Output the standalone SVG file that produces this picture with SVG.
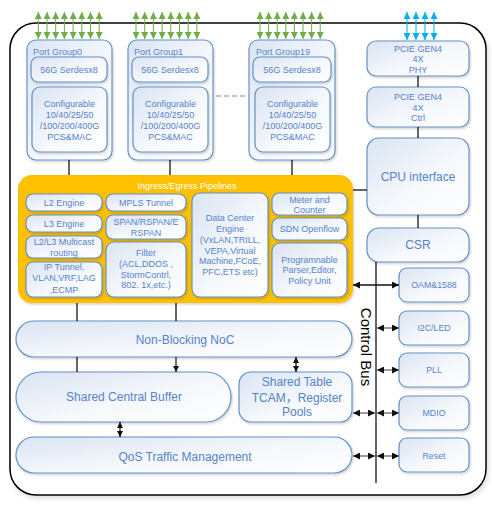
<svg xmlns="http://www.w3.org/2000/svg" width="492" height="508" viewBox="0 0 492 508">
<defs>
<linearGradient id="g" x1="0" y1="0" x2="1" y2="1"><stop offset="0" stop-color="#DAE4F2"/><stop offset="0.55" stop-color="#F5F8FC"/><stop offset="1" stop-color="#FFFFFF"/></linearGradient>
<filter id="sh" x="-10%" y="-10%" width="130%" height="140%"><feDropShadow dx="1" dy="1.5" stdDeviation="1" flood-color="#000" flood-opacity="0.18"/></filter>
<filter id="bsh" x="-5%" y="-5%" width="115%" height="115%"><feDropShadow dx="2" dy="3" stdDeviation="2" flood-color="#000" flood-opacity="0.12"/></filter>
<marker id="ah" viewBox="0 0 10 10" refX="10" refY="5" markerWidth="7" markerHeight="7" orient="auto-start-reverse" markerUnits="userSpaceOnUse"><path d="M0,0 L10,5 L0,10 z" fill="#111"/></marker>
<marker id="as" viewBox="0 0 10 10" refX="10" refY="5" markerWidth="6" markerHeight="6" orient="auto-start-reverse" markerUnits="userSpaceOnUse"><path d="M0,0 L10,5 L0,10 z" fill="#111"/></marker>
<marker id="gn" viewBox="0 0 10 10" refX="10" refY="5" markerWidth="7" markerHeight="7" orient="auto-start-reverse" markerUnits="userSpaceOnUse"><path d="M0,0 L10,5 L0,10 z" fill="#70AD47"/></marker>
<marker id="bl" viewBox="0 0 10 10" refX="10" refY="5" markerWidth="7" markerHeight="7" orient="auto-start-reverse" markerUnits="userSpaceOnUse"><path d="M0,0 L10,5 L0,10 z" fill="#00B0F0"/></marker>
</defs>
<style>
.b{fill:url(#g);stroke:#6592C6;stroke-width:1.2;filter:url(#sh)}
.t{font-family:"Liberation Sans","Noto Sans CJK SC",Arial,sans-serif;fill:#5683C8;font-size:9px;text-anchor:middle}
.l{text-anchor:start}
.m{font-size:12px}
.s{font-size:8.8px}
.w{fill:#FFFFFF}
.c{stroke:#000;stroke-width:1.2;fill:none}
.gr{stroke:#70AD47;stroke-width:1;marker-start:url(#gn);marker-end:url(#gn)}
.bu{stroke:#00B0F0;stroke-width:1;marker-start:url(#bl);marker-end:url(#bl)}
.da{stroke:#111;stroke-width:1.3;marker-start:url(#ah);marker-end:url(#ah)}
.dg{stroke:#7F7F7F;stroke-width:1.5;marker-start:url(#ah);marker-end:url(#ah)}
.ds{stroke:#111;stroke-width:1.3;marker-start:url(#as);marker-end:url(#as)}
</style>

<g id="frame">
<rect x="10" y="23" width="476" height="472" rx="26" fill="#FFFFFF" stroke="#000" stroke-width="1.5" filter="url(#bsh)"/>
</g>

<g id="port-group-0">
<rect class="b" x="27" y="40" width="85" height="120" rx="9"/>
<text class="t l" x="33" y="55">Port Group0</text>
<rect class="b" x="31" y="57" width="76" height="25" rx="7"/>
<text class="t" x="69" y="73">56G Serdesx8</text>
<rect class="b" x="32" y="87" width="75" height="65" rx="8"/>
<text class="t" x="69.5" y="106.5">Configurable</text>
<text class="t" x="69.5" y="117.5">10/40/25/50</text>
<text class="t" x="69.5" y="128.5">/100/200/400G</text>
<text class="t" x="69.5" y="139.5">PCS&amp;MAC</text>
</g>

<g id="port-group-1">
<rect class="b" x="128" y="40" width="85" height="120" rx="9"/>
<text class="t l" x="134" y="55">Port Group1</text>
<rect class="b" x="132" y="57" width="76" height="25" rx="7"/>
<text class="t" x="170" y="73">56G Serdesx8</text>
<rect class="b" x="133" y="87" width="75" height="65" rx="8"/>
<text class="t" x="170.5" y="106.5">Configurable</text>
<text class="t" x="170.5" y="117.5">10/40/25/50</text>
<text class="t" x="170.5" y="128.5">/100/200/400G</text>
<text class="t" x="170.5" y="139.5">PCS&amp;MAC</text>
</g>

<g id="port-group-19">
<rect class="b" x="249" y="40" width="86" height="120" rx="9"/>
<text class="t l" x="256" y="55">Port Group19</text>
<rect class="b" x="253" y="57" width="78" height="25" rx="7"/>
<text class="t" x="292" y="73">56G Serdesx8</text>
<rect class="b" x="255" y="87" width="75" height="65" rx="8"/>
<text class="t" x="292.5" y="106.5">Configurable</text>
<text class="t" x="292.5" y="117.5">10/40/25/50</text>
<text class="t" x="292.5" y="128.5">/100/200/400G</text>
<text class="t" x="292.5" y="139.5">PCS&amp;MAC</text>
</g>

<g id="pcie-phy">
<rect class="b" x="367" y="41" width="102" height="35" rx="9"/>
<text class="t" x="418" y="51.5">PCIE GEN4</text>
<text class="t" x="418" y="62">4X</text>
<text class="t" x="418" y="72.5">PHY</text>
</g>
<g id="pcie-ctrl">
<rect class="b" x="367" y="87" width="102" height="40" rx="9"/>
<text class="t" x="418" y="100">PCIE GEN4</text>
<text class="t" x="418" y="110.5">4X</text>
<text class="t" x="418" y="121">Ctrl</text>
</g>
<g id="cpu-interface">
<rect class="b" x="367" y="138" width="102" height="77" rx="12"/>
<text class="t m" x="418" y="181">CPU interface</text>
</g>
<g id="csr">
<rect class="b" x="367" y="228" width="102" height="34" rx="12"/>
<text class="t m" x="418" y="249">CSR</text>
</g>

<g id="pipelines">
<rect x="18" y="175" width="335" height="128" rx="14" fill="#FFC000" filter="url(#sh)"/>
<text class="t w" x="187" y="189">Ingress/Egress Pipelines</text>
<rect class="b" x="26" y="194" width="76" height="17" rx="7"/>
<text class="t" x="64" y="205.5">L2 Engine</text>
<rect class="b" x="26" y="215" width="76" height="17" rx="7"/>
<text class="t" x="64" y="226.5">L3 Engine</text>
<rect class="b" x="26" y="236" width="76" height="22" rx="7"/>
<text class="t" x="64" y="244.5">L2/L3 Multicast</text>
<text class="t" x="64" y="255.5">routing</text>
<rect class="b" x="26" y="262" width="76" height="35" rx="7"/>
<text class="t" x="64" y="269.5">IP Tunnel,</text>
<text class="t" x="64" y="281">VLAN,VRF,LAG</text>
<text class="t" x="64" y="292.5">,ECMP</text>
<rect class="b" x="106" y="194" width="80" height="17" rx="7"/>
<text class="t" x="146" y="205.5">MPLS Tunnel</text>
<rect class="b" x="106" y="215" width="80" height="24" rx="7"/>
<text class="t" x="146" y="224.5">SPAN/RSPAN/E</text>
<text class="t" x="146" y="235.5">RSPAN</text>
<rect class="b" x="106" y="242" width="80" height="55" rx="8"/>
<text class="t" x="146" y="256">Filter</text>
<text class="t" x="146" y="267">(ACL,DDOS ,</text>
<text class="t" x="146" y="277.5">StormContrl,</text>
<text class="t" x="146" y="288">802. 1x,etc.)</text>
<rect class="b" x="192" y="193" width="76" height="104" rx="8"/>
<text class="t" x="230" y="221">Data Center</text>
<text class="t" x="230" y="232">Engine</text>
<text class="t" x="230" y="243">(VxLAN,TRILL,</text>
<text class="t" x="230" y="253.5">VEPA,Virtual</text>
<text class="t" x="230" y="264">Machine,FCoE,</text>
<text class="t" x="230" y="274.5">PFC,ETS etc)</text>
<rect class="b" x="272" y="193" width="75" height="22" rx="7"/>
<text class="t" x="309.5" y="202.5">Meter and</text>
<text class="t" x="309.5" y="212.5">Counter</text>
<rect class="b" x="272" y="218" width="75" height="22" rx="7"/>
<text class="t" x="309.5" y="232">SDN Openflow</text>
<rect class="b" x="272" y="243" width="75" height="54" rx="8"/>
<text class="t" x="309.5" y="262.5">Programnable</text>
<text class="t" x="309.5" y="273">Parser,Editor,</text>
<text class="t" x="309.5" y="284">Policy Unit</text>
</g>

<g id="noc">
<rect class="b" x="16" y="321" width="336" height="36" rx="18"/>
<text class="t m" x="185" y="343.5">Non-Blocking NoC</text>
</g>
<g id="shared-central-buffer">
<rect class="b" x="16" y="372" width="215" height="50" rx="25"/>
<text class="t m" x="124" y="401">Shared Central Buffer</text>
</g>
<g id="shared-table">
<rect class="b" x="239" y="372" width="113" height="50" rx="12"/>
<text class="t m" x="297" y="386">Shared Table</text>
<text class="t m" x="297" y="402">TCAM，Register</text>
<text class="t m" x="297" y="416">Pools</text>
</g>
<g id="qos">
<rect class="b" x="16" y="437" width="336" height="36" rx="18"/>
<text class="t m" x="185" y="460.5">QoS Traffic Management</text>
</g>

<g id="oam"><rect class="b" x="399" y="268" width="70" height="34" rx="8"/><text class="t s" x="434" y="288">OAM&amp;1588</text></g>
<g id="i2c-led"><rect class="b" x="399" y="311" width="70" height="34" rx="8"/><text class="t s" x="434" y="331">I2C/LED</text></g>
<g id="pll"><rect class="b" x="399" y="353" width="70" height="34" rx="8"/><text class="t s" x="434" y="373">PLL</text></g>
<g id="mdio"><rect class="b" x="399" y="396" width="70" height="34" rx="8"/><text class="t s" x="434" y="416">MDIO</text></g>
<g id="reset"><rect class="b" x="399" y="438" width="70" height="34" rx="8"/><text class="t s" x="434" y="458.5">Reset</text></g>

<g id="control-bus">
<line class="c" x1="376" y1="262" x2="376" y2="483"/>
<text transform="translate(361,347) rotate(90)" font-family="Liberation Sans,Arial,sans-serif" font-size="15" fill="#000" text-anchor="middle">Control Bus</text>
</g>

<g id="connectors">
<line class="gr" x1="38.3" y1="12" x2="38.3" y2="39"/>
<line class="gr" x1="47" y1="12" x2="47" y2="39"/>
<line class="gr" x1="55.7" y1="12" x2="55.7" y2="39"/>
<line class="gr" x1="64.4" y1="12" x2="64.4" y2="39"/>
<line class="gr" x1="73.1" y1="12" x2="73.1" y2="39"/>
<line class="gr" x1="81.8" y1="12" x2="81.8" y2="39"/>
<line class="gr" x1="90.5" y1="12" x2="90.5" y2="39"/>
<line class="gr" x1="99.2" y1="12" x2="99.2" y2="39"/>
<line class="gr" x1="136" y1="12" x2="136" y2="39"/>
<line class="gr" x1="144.7" y1="12" x2="144.7" y2="39"/>
<line class="gr" x1="153.4" y1="12" x2="153.4" y2="39"/>
<line class="gr" x1="162.1" y1="12" x2="162.1" y2="39"/>
<line class="gr" x1="170.8" y1="12" x2="170.8" y2="39"/>
<line class="gr" x1="179.5" y1="12" x2="179.5" y2="39"/>
<line class="gr" x1="188.2" y1="12" x2="188.2" y2="39"/>
<line class="gr" x1="196.9" y1="12" x2="196.9" y2="39"/>
<line class="gr" x1="260" y1="12" x2="260" y2="39"/>
<line class="gr" x1="268.6" y1="12" x2="268.6" y2="39"/>
<line class="gr" x1="277.2" y1="12" x2="277.2" y2="39"/>
<line class="gr" x1="285.8" y1="12" x2="285.8" y2="39"/>
<line class="gr" x1="294.4" y1="12" x2="294.4" y2="39"/>
<line class="gr" x1="303" y1="12" x2="303" y2="39"/>
<line class="gr" x1="311.6" y1="12" x2="311.6" y2="39"/>
<line class="gr" x1="320.2" y1="12" x2="320.2" y2="39"/>
<line class="bu" x1="407" y1="12" x2="407" y2="40"/>
<line class="bu" x1="416" y1="12" x2="416" y2="40"/>
<line class="bu" x1="425" y1="12" x2="425" y2="40"/>
<line class="bu" x1="434" y1="12" x2="434" y2="40"/>
<line x1="216" y1="96" x2="247" y2="96" stroke="#6592C6" stroke-width="1.2" stroke-dasharray="5,3"/>
<line class="c" x1="69" y1="160" x2="69" y2="175"/>
<line class="c" x1="170" y1="160" x2="170" y2="175"/>
<line class="c" x1="292" y1="160" x2="292" y2="175"/>
<line class="c" x1="418" y1="76" x2="418" y2="87"/>
<line class="c" x1="418" y1="127" x2="418" y2="138"/>
<line class="c" x1="418" y1="215" x2="418" y2="228"/>
<line class="c" x1="353" y1="190" x2="367" y2="190"/>
<line class="c" x1="77" y1="303" x2="77" y2="321"/>
<line class="c" x1="176" y1="303" x2="176" y2="321"/>
<line class="c" x1="77" y1="357" x2="77" y2="372"/>
<line x1="176" y1="357" x2="176" y2="372" stroke="#111" stroke-width="1.2" marker-end="url(#as)"/>
<line class="ds" x1="296" y1="357" x2="296" y2="372"/>
<line class="ds" x1="120" y1="422" x2="120" y2="437"/>
<line class="da" x1="353" y1="285" x2="399" y2="285"/>
<line class="dg" x1="377" y1="328" x2="399" y2="328"/>
<line class="dg" x1="377" y1="370" x2="399" y2="370"/>
<line class="dg" x1="353" y1="413" x2="375" y2="413"/>
<line class="dg" x1="377" y1="413" x2="399" y2="413"/>
<line class="dg" x1="353" y1="456" x2="375" y2="456"/>
<line class="dg" x1="377" y1="456" x2="399" y2="456"/>
</g>
</svg>
